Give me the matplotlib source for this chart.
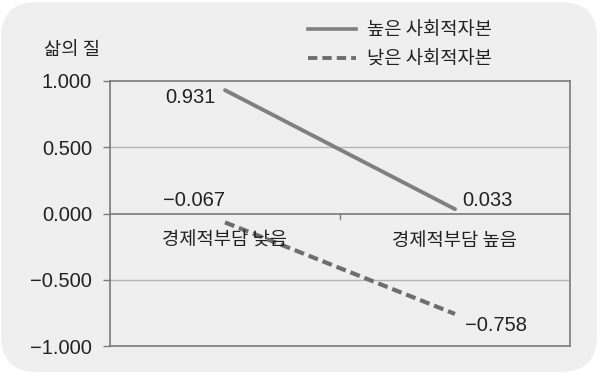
import matplotlib
matplotlib.use("Agg")
import matplotlib.pyplot as plt
from matplotlib.patches import FancyBboxPatch
from matplotlib.lines import Line2D

plt.rcParams['font.family'] = ['Noto Sans CJK KR', 'DejaVu Sans']
plt.rcParams['axes.unicode_minus'] = True

categories = ['경제적부담 낮음', '경제적부담 높음']
series_names = ['높은 사회적자본', '낮은 사회적자본']
high_vals = [0.931, 0.033]
low_vals = [-0.067, -0.758]
yticks = [1.0, 0.5, 0.0, -0.5, -1.0]
ylabel = '삶의 질'

NUMFONT = ['Liberation Sans', 'DejaVu Sans']
NUMSIZE = 14.5
TXT = '#222222'

W, H = 600, 377
fig = plt.figure(figsize=(W / 100, H / 100), dpi=100)
fig.patch.set_facecolor('white')

panel = FancyBboxPatch((1 / W, 5 / H), 596 / W, 370 / H,
                       boxstyle='round,pad=0,rounding_size=0.06',
                       transform=fig.transFigure, facecolor='#efefef',
                       edgecolor='none', mutation_aspect=W / H, zorder=-10)
fig.patches.append(panel)

ax = fig.add_axes([110 / W, (H - 346) / H, 460 / W, 265 / H])
ax.set_zorder(5)
ax.set_facecolor('none')
ax.set_xlim(0, 2)
ax.set_ylim(-1, 1)

spine_c = '#7a7a7a'
for s in ax.spines.values():
    s.set_color(spine_c)
    s.set_linewidth(1.2)

for y in [0.5, -0.5]:
    ax.axhline(y, color='#b5b5b5', lw=1.0, zorder=1)
ax.axhline(0, color=spine_c, lw=1.2, zorder=1)


def fmt(v):
    return f'{v:.3f}'.replace('-', '\u2212')


ax.set_yticks(yticks)
ax.set_yticklabels([fmt(v) for v in yticks], family=NUMFONT)
ax.tick_params(axis='y', length=5, width=1.0, color=spine_c, pad=8,
               labelsize=NUMSIZE, labelcolor=TXT)
ax.set_xticks([])
# middle category tick on zero line
ax.plot([1, 1], [0, -0.04], color=spine_c, lw=1.0, zorder=2, clip_on=False)

xs = [0.5, 1.5]
lc = '#808080'
lc2 = '#6e6e6e'
ax.plot(xs, high_vals, color=lc, lw=2.8, solid_capstyle='round', zorder=3)
ax.plot(xs, low_vals, color=lc2, lw=3.0, linestyle=(0, (2.4, 1.2)),
        dash_capstyle='butt', zorder=3)

for x, c in zip(xs, categories):
    ax.annotate(c, xy=(x, 0), xytext=(0, -19.5), textcoords='offset points',
                ha='center', va='center', fontsize=13.5, color=TXT)

num_kw = dict(textcoords='offset points', va='center', fontsize=NUMSIZE,
              color=TXT, family=NUMFONT)
ax.annotate(fmt(high_vals[0]), xy=(xs[0], high_vals[0]), xytext=(-6.5, -5),
            ha='right', **num_kw)
ax.annotate(fmt(high_vals[1]), xy=(xs[1], high_vals[1]), xytext=(5.5, 6),
            ha='left', **num_kw)
ax.annotate(fmt(low_vals[0]), xy=(xs[0], low_vals[0]), xytext=(0, 16),
            ha='right', **num_kw)
ax.annotate(fmt(low_vals[1]), xy=(xs[1], low_vals[1]), xytext=(7, -8),
            ha='left', **num_kw)

fig.text(44 / W, 1 - 50 / H, ylabel, ha='left', va='center',
         fontsize=13.5, color=TXT)

handles = [Line2D([0], [0], color=lc, lw=2.6),
           Line2D([0], [0], color=lc2, lw=2.8, linestyle=(0, (2.4, 1.3)),
                  dash_capstyle='butt')]
fig.legend(handles, series_names, loc='upper left',
           bbox_to_anchor=(300 / W, 1 - 12 / H), frameon=False,
           fontsize=13.5, handlelength=2.6, handletextpad=0.55,
           labelspacing=0.45, labelcolor=TXT, borderaxespad=0)

fig.savefig('out.png', dpi=100, facecolor='white')
